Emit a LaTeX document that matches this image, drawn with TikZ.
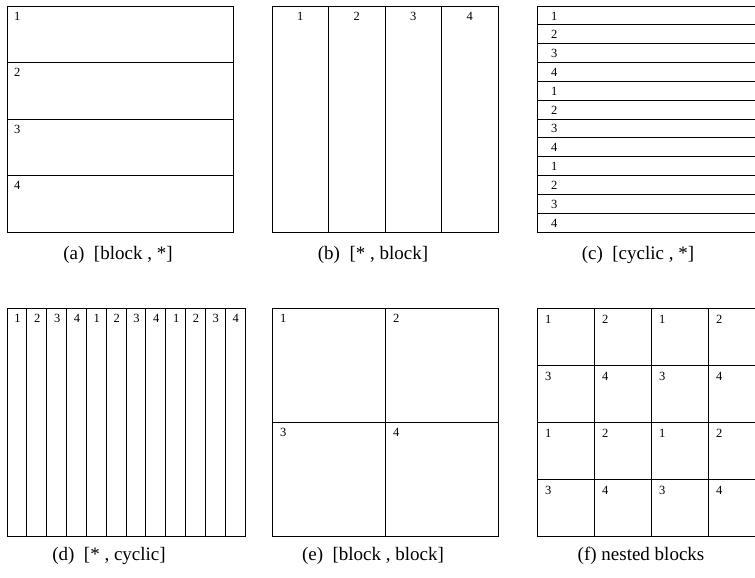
\documentclass[tikz,border=0pt]{standalone}
\usepackage{fontspec}
\setmainfont{Liberation Serif}
\begin{document}
\begin{tikzpicture}[x=1pt,y=-1pt,
  grid/.style={draw=black,line width=0.9pt},
  num/.style={font=\fontsize{12.5}{13}\selectfont,inner sep=0pt},
  captext/.style={font=\fontsize{19}{21}\selectfont,inner sep=0pt}]
\useasboundingbox (0,0) rectangle (755,578);
\begin{scope}
\clip (0,0) rectangle (755,578);
% (a)
\draw[grid] (7,6) rectangle (233,232);
\foreach \y in {62.5,119,175.5} \draw[grid] (7,\y) -- (233,\y);
\foreach \i/\y in {1/6,2/62.5,3/119,4/175.5}
  \node[num,anchor=north west] (a\i) at (14,\y+6) {\i};
\node[captext] (capa) at (118,255) {(a)\ \ [block , *]};
% (b)
\draw[grid] (272,6) rectangle (498,232);
\foreach \x in {328.5,385,441.5} \draw[grid] (\x,6) -- (\x,232);
\foreach \i/\x in {1/272,2/328.5,3/385,4/441.5}
  \node[num,anchor=north] (b\i) at (\x+28.25,12) {\i};
\node[captext] (capb) at (373,255) {(b)\ \ [* , block]};
% (c)
\draw[grid] (537,6) rectangle (763,232);
\foreach \k in {1,...,11} \draw[grid] (537,6+\k*18.833) -- (763,6+\k*18.833);
\foreach \k in {0,...,11} {
  \pgfmathtruncatemacro{\lab}{mod(\k,4)+1}
  \node[num,anchor=west] (c\k) at (551,6+\k*18.833+9.9) {\lab};
}
\node[captext] (capc) at (638,255) {(c)\ \ [cyclic , *]};
% (d)
\draw[grid] (7,308) rectangle (245,536);
\foreach \k in {1,...,11} \draw[grid] (7+\k*19.833,308) -- (7+\k*19.833,536);
\foreach \k in {0,...,11} {
  \pgfmathtruncatemacro{\lab}{mod(\k,4)+1}
  \node[num,anchor=north] (d\k) at (7+\k*19.833+10.5,314) {\lab};
}
\node[captext] (capd) at (109,556) {(d)\ \ [* , cyclic]};
% (e)
\draw[grid] (272,308) rectangle (498,536);
\draw[grid] (385,308) -- (385,536);
\draw[grid] (272,422) -- (498,422);
\node[num,anchor=north west] (e1) at (280,314) {1};
\node[num,anchor=north west] (e2) at (393,314) {2};
\node[num,anchor=north west] (e3) at (280,428) {3};
\node[num,anchor=north west] (e4) at (393,428) {4};
\node[captext] (cape) at (373,556) {(e)\ \ [block , block]};
% (f)
\draw[grid] (537,308) rectangle (765,536);
\foreach \k in {1,2,3} {
  \draw[grid] (537+\k*57,308) -- (537+\k*57,536);
  \draw[grid] (537,308+\k*57) -- (765,308+\k*57);
}
\foreach \r in {0,...,3} \foreach \c in {0,...,3} {
  \pgfmathtruncatemacro{\lab}{2*mod(\r,2)+mod(\c,2)+1}
  \node[num,anchor=north west] (f\r\c) at (537+\c*57+8,308+\r*57+7) {\lab};
}
\node[captext] (capf) at (641,556) {(f) nested blocks};
\end{scope}
\end{tikzpicture}
\end{document}
